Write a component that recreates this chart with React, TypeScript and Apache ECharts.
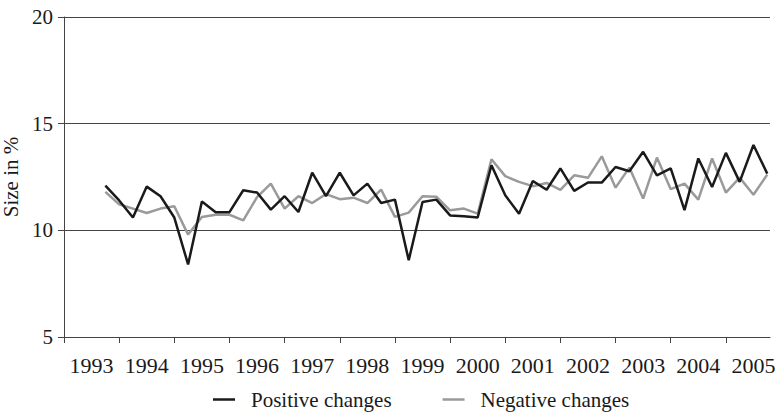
import React, { useEffect, useRef } from "react";
import * as echarts from "echarts";

const years = ["1993", "1994", "1995", "1996", "1997", "1998", "1999", "2000", "2001", "2002", "2003", "2004", "2005"];
// quarterly observations, first one at the end of 1993 (quarter index 3)
const firstQuarter = 3;
const positiveChanges = [
  12.1, 11.4, 10.6, 12.05, 11.6, 10.6, 8.4, 11.35, 10.85, 10.85, 11.88, 11.77, 10.97, 11.6, 10.86, 12.7,
  11.6, 12.7, 11.64, 12.19, 11.28, 11.44, 8.6, 11.33, 11.44, 10.7, 10.66, 10.6, 13.05, 11.64, 10.78, 12.31,
  11.9, 12.9, 11.85, 12.24, 12.24, 12.97, 12.77, 13.68, 12.58, 12.9, 10.95, 13.37, 12.03, 13.63, 12.27, 14.0,
  12.66,
];
const negativeChanges = [
  11.8, 11.22, 11.02, 10.81, 11.02, 11.13, 9.8, 10.63, 10.73, 10.73, 10.47, 11.56, 12.19, 11.02, 11.6, 11.28,
  11.7, 11.46, 11.53, 11.28, 11.91, 10.63, 10.83, 11.6, 11.58, 10.94, 11.02, 10.78, 13.33, 12.54, 12.27, 12.07,
  12.22, 11.9, 12.58, 12.46, 13.47, 12.0, 12.94, 11.49, 13.41, 11.93, 12.19, 11.44, 13.37, 11.77, 12.47, 11.67,
  12.61,
];
const yTicks = [5, 10, 15, 20];

const FONT = "'Liberation Serif', 'DejaVu Serif', serif";

export default function App() {
  const ref = useRef<HTMLDivElement>(null);
  useEffect(() => {
    if (!ref.current) return;
    const chart = echarts.init(ref.current, undefined, { renderer: "svg" });
    const toPairs = (arr: number[]) => arr.map((v, i) => [i + firstQuarter, v]);
    const tickVals = years.map((_, i) => i * 4);
    const labelVals = years.map((_, i) => i * 4 + 2);
    chart.setOption({
      animation: false,
      textStyle: { fontFamily: FONT },
      grid: { left: 64, right: 5, top: 17, bottom: 80, containLabel: false, outerBoundsMode: "none" },
      legend: {
        top: 389,
        left: 213,
        padding: 0,
        icon: "rect",
        itemWidth: 22,
        itemHeight: 2.5,
        itemGap: 51,
        textStyle: { fontFamily: FONT, fontSize: 21, color: "#1a1a1a", padding: [0, 0, 0, 11] },
        data: ["Positive changes", "Negative changes"],
      },
      xAxis: {
        type: "value",
        min: 0,
        max: 51.2,
        axisLine: { show: true, lineStyle: { color: "#444", width: 1 } },
        axisTick: { show: true, customValues: tickVals, length: 6, lineStyle: { color: "#444" } },
        axisLabel: {
          customValues: labelVals,
          formatter: (v: number) => years[Math.round((v - 2) / 4)] ?? "",
          fontFamily: FONT,
          fontSize: 22,
          color: "#1a1a1a",
          margin: 17,
        },
        splitLine: { show: false },
      },
      yAxis: {
        type: "value",
        min: yTicks[0],
        max: yTicks[yTicks.length - 1],
        interval: 5,
        name: "Size in %",
        nameLocation: "middle",
        nameGap: 40,
        nameTextStyle: { fontFamily: FONT, fontSize: 21, color: "#1a1a1a" },
        axisLine: { show: true, lineStyle: { color: "#444", width: 1 } },
        axisTick: { show: true, length: 6, lineStyle: { color: "#444" } },
        axisLabel: { fontFamily: FONT, fontSize: 21, color: "#1a1a1a", margin: 11 },
        splitLine: { show: true, lineStyle: { color: "#444", width: 1 } },
      },
      series: [
        {
          name: "Positive changes",
          type: "line",
          data: toPairs(positiveChanges),
          showSymbol: false,
          symbol: "none",
          lineStyle: { color: "#1a1a1a", width: 2.5 },
          itemStyle: { color: "#1a1a1a" },
          z: 3,
        },
        {
          name: "Negative changes",
          type: "line",
          data: toPairs(negativeChanges),
          showSymbol: false,
          symbol: "none",
          lineStyle: { color: "#9a9a9a", width: 2.5 },
          itemStyle: { color: "#9a9a9a" },
          z: 2,
        },
      ],
    });
    return () => chart.dispose();
  }, []);
  return <div ref={ref} style={{ width: 775, height: 417, position: "absolute", left: 0, top: 0 }} />;
}
